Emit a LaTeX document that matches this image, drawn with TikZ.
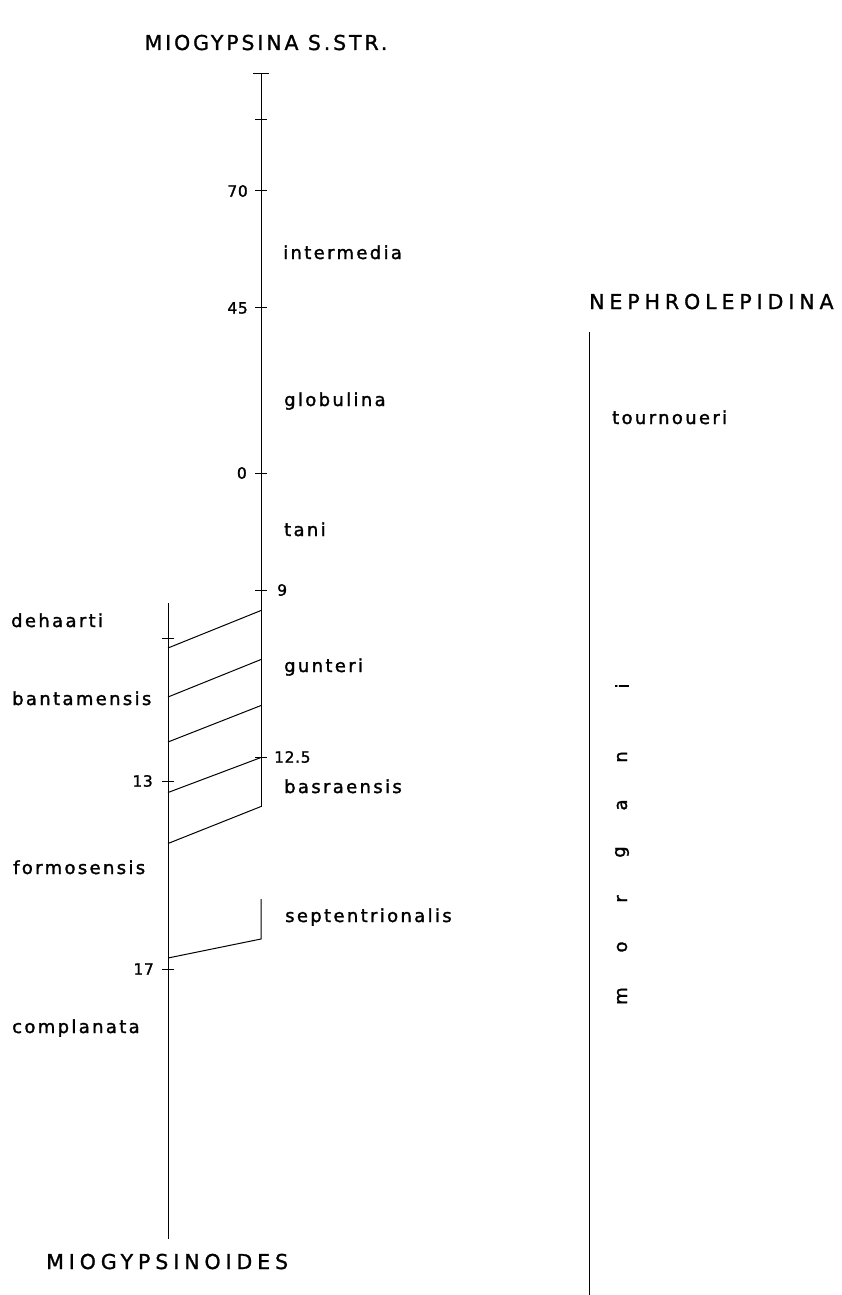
\documentclass[tikz,border=0pt]{standalone}
\usepackage{fontspec}
\newfontfamily\labfont{DejaVu Sans}[LetterSpace=13,FakeBold=1.6]
\newfontfamily\numfont{DejaVu Sans}[LetterSpace=4,FakeBold=1.4]
\newfontfamily\capfont{DejaVu Sans}[LetterSpace=24,FakeBold=1.2]
\newfontfamily\headfont{DejaVu Sans}[LetterSpace=14,FakeBold=1.2]
\begin{document}
\begin{tikzpicture}[x=1pt,y=-1pt,
  ax/.style={line width=0.8pt,black},
  sl/.style={line width=1pt,black},
  tk/.style={line width=0.9pt,black},
  lab/.style={font=\labfont\fontsize{18}{21}\selectfont,inner sep=0pt,anchor=base west},
  num/.style={font=\numfont\fontsize{15.5}{18}\selectfont,inner sep=0pt},
  capt/.style={font=\capfont\fontsize{20.5}{24}\selectfont,inner sep=0pt,anchor=base west},
  vlet/.style={font=\labfont\fontsize{18}{21}\selectfont,inner sep=0pt,rotate=90}]
\useasboundingbox (0,0) rectangle (841,1295);
% main (Miogypsina s.str.) axis
\coordinate (mtop) at (261,73);
\coordinate (mbot) at (261,806.5);
\draw[ax] (mtop) -- (mbot);
\draw[tk] (253,73) -- (269,73);
\foreach \y in {119,190.7,307.7,473,590,757.5}{\draw[tk] (255,\y) -- (267,\y);}
% left (Miogypsinoides) axis
\coordinate (ltop) at (168,603);
\coordinate (lbot) at (168,1239);
\draw[ax] (ltop) -- (lbot);
\foreach \y in {638,781,969}{\draw[tk] (162,\y) -- (174,\y);}
% connecting slants
\coordinate (l1) at (168,648);   \coordinate (r1) at (261,610.5);
\coordinate (l2) at (168,697);   \coordinate (r2) at (261,659.5);
\coordinate (l3) at (168,742);   \coordinate (r3) at (261,705.5);
\coordinate (l4) at (168,792.5); \coordinate (r4) at (261,757.5);
\coordinate (l5) at (168,843.5); \coordinate (r5) at (261,806.5);
\foreach \i in {1,...,5}{\draw[sl] (l\i) -- (r\i);}
% septentrionalis bracket
\coordinate (stop) at (261,899);
\coordinate (scor) at (261,939);
\coordinate (sl6) at (168,958);
\draw[sl] (stop) -- (scor) -- (sl6);
% Nephrolepidina axis
\coordinate (ntop) at (589,332);
\coordinate (nbot) at (589,1295);
\draw[ax] (ntop) -- (nbot);
% numbers
\node[num,anchor=east] (n70) at (248,191) {70};
\node[num,anchor=east] (n45) at (248,308) {45};
\node[num,anchor=east] (n0) at (247,473) {0};
\node[num,anchor=west] (n9) at (277,590) {9};
\node[num,anchor=west] (n125) at (274,757) {12.5};
\node[num,anchor=east] (n13) at (153,781) {13};
\node[num,anchor=east] (n17) at (154,969) {17};
% headings
\node[font=\headfont\fontsize{20.5}{24}\selectfont,inner sep=0pt,anchor=base] (hmio) at (266,50) {MIOGYPSINA S.STR.};
\node[capt] (hneph) at (589,309) {NEPHROLEPIDINA};
\node[capt] (hmoid) at (46,1269) {MIOGYPSINOIDES};
% species, right of main axis
\node[lab] (sint) at (283,259) {intermedia};
\node[lab] (sglo) at (284,406) {globulina};
\node[lab] (stan) at (284,536) {tani};
\node[lab] (sgun) at (284,672) {gunteri};
\node[lab] (sbas) at (284,793) {basraensis};
\node[lab] (ssep) at (285,922) {septentrionalis};
% species, left
\node[lab] (sdeh) at (11,627) {dehaarti};
\node[lab] (sban) at (12,705) {bantamensis};
\node[lab] (sfor) at (13,874) {formosensis};
\node[lab] (scom) at (12,1033) {complanata};
% Nephrolepidina species
\node[lab] (stou) at (612,424) {tournoueri};
\node[vlet] (mi) at (622,686) {i};
\node[vlet] (mn) at (622,757) {n};
\node[vlet] (ma) at (622,805) {a};
\node[vlet] (mg) at (622,852) {g};
\node[vlet] (mr) at (622,899) {r};
\node[vlet] (mo) at (622,947) {o};
\node[vlet] (mm) at (622,996) {m};
\end{tikzpicture}
\end{document}
